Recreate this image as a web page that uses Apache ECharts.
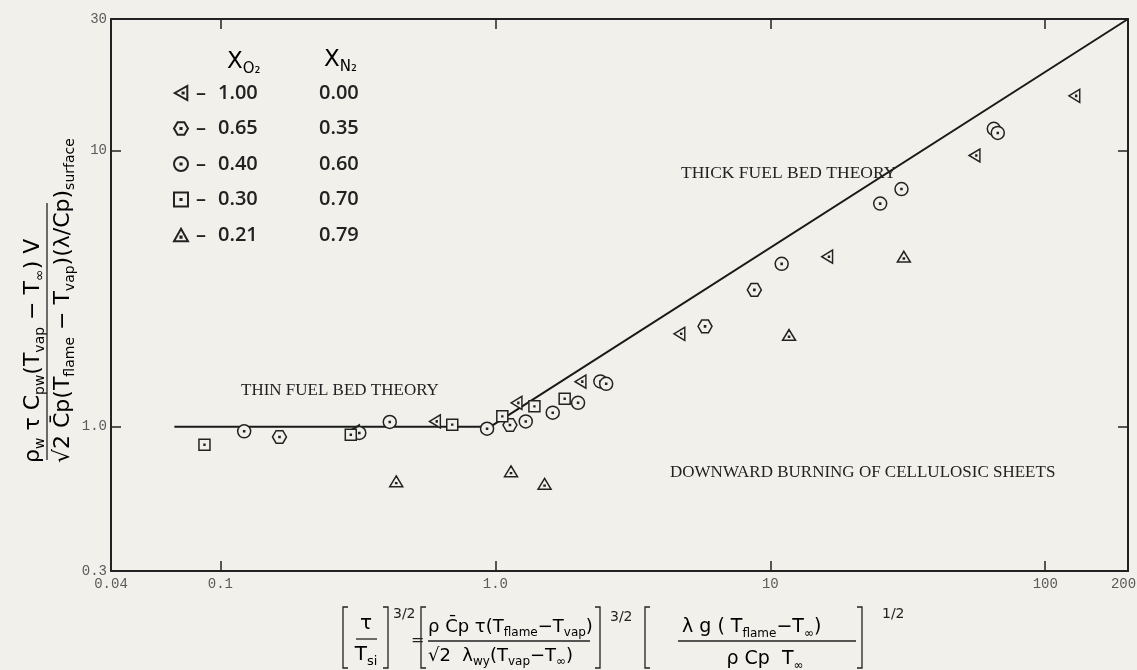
<!DOCTYPE html>
<html>
<head>
<meta charset="utf-8">
<script src="https://cdn.jsdelivr.net/npm/echarts@6/dist/echarts.min.js"></script>
<style>
  html, body { margin: 0; padding: 0; background: #f1f0eb; }
  #chart { width: 1137px; height: 670px; }
</style>
</head>
<body>
<div id="chart"></div>
<script>
// oxygen / nitrogen mole fractions (legend)
const o2Fractions = ['1.00', '0.65', '0.40', '0.30', '0.21']
const n2Fractions = ['0.00', '0.35', '0.60', '0.70', '0.79']

// measured points [x, y]
const pointsO2_100 = [[0.306, 0.962], [0.603, 1.045], [1.194, 1.22], [2.04, 1.456], [4.67, 2.17], [16.1, 4.13], [55.3, 9.61], [127.6, 15.8]]
const pointsO2_065 = [[0.164, 0.918], [1.13, 1.014], [5.79, 2.31], [8.75, 3.13]]
const pointsO2_040 = [[0.122, 0.962], [0.32, 0.949], [0.413, 1.04], [0.933, 0.983], [1.29, 1.045], [1.617, 1.124], [1.999, 1.22], [2.41, 1.459], [2.53, 1.43], [11.0, 3.89], [25.1, 6.43], [30.0, 7.26], [65.0, 12.0], [67.2, 11.6]]
const pointsO2_030 = [[0.0875, 0.86], [0.298, 0.935], [0.697, 1.017], [1.06, 1.09], [1.387, 1.185], [1.787, 1.263]]
const pointsO2_021 = [[0.436, 0.634], [1.14, 0.689], [1.51, 0.621], [11.7, 2.15], [30.6, 4.13]]

// thin / thick fuel bed theory
const theoryLine = [[0.068, 1.0], [0.96, 1.0], [200, 30]]

// axes
const xTickValues = [0.04, 0.1, 1, 10, 100, 200]
const xTickLabels = ['0.04', '0.1', '1.0', '10', '100', '{r|200}']
const xMajorTicks = [0.1, 1, 10, 100]
const yTickValues = [0.3, 1, 10, 30]
const yTickLabels = ['0.3', '1.0', '10', '30']
const yMajorTicks = [1, 10]

const bg = '#f1f0eb'
const ink = '#222'
const labelGray = '#5a5a5a'
const mathFont = '"DejaVu Sans"'

const symbols = {
    triLeft: 'path://M0,5 L9,0 L9,10 Z M5.6,4.6 L6.4,4.6 L6.4,5.4 L5.6,5.4 Z',
    hexagon: 'path://M0,5 L2.6,0.5 L7.4,0.5 L10,5 L7.4,9.5 L2.6,9.5 Z M4.6,4.6 L5.4,4.6 L5.4,5.4 L4.6,5.4 Z',
    circle: 'path://M10,5 A5,5 0 1 1 0,5 A5,5 0 1 1 10,5 Z M4.6,4.6 L5.4,4.6 L5.4,5.4 L4.6,5.4 Z',
    square: 'path://M0,0 L10,0 L10,10 L0,10 Z M4.6,4.6 L5.4,4.6 L5.4,5.4 L4.6,5.4 Z',
    triUp: 'path://M5,0 L10,9 L0,9 Z M4.6,5.6 L5.4,5.6 L5.4,6.4 L4.6,6.4 Z'
}

const pickLabel = (values, labels) => v => {
    let best = 0
    values.forEach((t, i) => {
        if (Math.abs(Math.log10(v) - Math.log10(t)) < Math.abs(Math.log10(v) - Math.log10(values[best]))) best = i
    })
    return labels[best]
}

const axisCommon = {
    type: 'log',
    logBase: 10,
    axisLine: { show: true, lineStyle: { color: ink, width: 2 } },
    splitLine: { show: false },
    minorTick: { show: false }
}

const tickFont = { color: labelGray, fontFamily: '"Liberation Mono"', fontSize: 14 }

const makeX = (position, showLabel) => ({
    ...axisCommon,
    position,
    min: 0.04,
    max: 200,
    axisTick: { show: true, inside: true, length: 10, customValues: xMajorTicks, lineStyle: { color: ink, width: 1.5 } },
    axisLabel: {
        show: showLabel,
        customValues: xTickValues,
        formatter: pickLabel(xTickValues, xTickLabels),
        margin: 6,
        ...tickFont,
        rich: { r: { ...tickFont, padding: [0, 9, 0, 0] } }
    }
})

const makeY = (position, showLabel) => ({
    ...axisCommon,
    position,
    min: 0.3,
    max: 30,
    axisTick: { show: true, inside: true, length: 10, customValues: yMajorTicks, lineStyle: { color: ink, width: 1.5 } },
    axisLabel: {
        show: showLabel,
        customValues: yTickValues,
        formatter: pickLabel(yTickValues, yTickLabels),
        margin: 4,
        ...tickFont
    }
})

const scatter = (name, data, symbol, size) => ({
    type: 'scatter',
    name,
    data,
    symbol,
    symbolSize: size,
    symbolKeepAspect: true,
    itemStyle: { color: bg, borderColor: ink, borderWidth: 1.5, opacity: 1 },
    emphasis: { disabled: true },
    z: 5
})

// rich text styles for the formula labels
const mathRich = size => ({
    m: { fontSize: size, fontFamily: mathFont, color: ink, lineHeight: Math.round(size * 1.3), verticalAlign: 'middle' },
    s: { fontSize: Math.round(size * 0.65), fontFamily: mathFont, color: ink, lineHeight: Math.round(size * 0.65), verticalAlign: 'bottom' },
    p: { fontSize: Math.round(size * 0.65), fontFamily: mathFont, color: ink, lineHeight: Math.round(size * 0.65), verticalAlign: 'top' }
})

const mathText = (x, y, text, size, align) => ({
    type: 'text',
    x, y,
    style: { text, rich: mathRich(size), textAlign: align || 'left', textVerticalAlign: 'middle' }
})

const hLine = (x1, x2, y) => ({
    type: 'line',
    shape: { x1, y1: y, x2, y2: y },
    style: { stroke: ink, lineWidth: 1.3 }
})

const bracket = (x, top, bottom, open) => {
    const d = open ? 5 : -5
    return {
        type: 'polyline',
        shape: { points: [[x + d, top], [x, top], [x, bottom], [x + d, bottom]] },
        style: { stroke: ink, lineWidth: 1.3, fill: null }
    }
}

const plainText = (x, y, text, font, align) => ({
    type: 'text',
    x, y,
    style: { text, font, fill: ink, textAlign: align || 'left', textVerticalAlign: 'middle' }
})

// y axis title (rotated fraction)
const yTitle = {
    type: 'group',
    x: 47,
    y: 463,
    rotation: Math.PI / 2,
    children: [
        mathText(0, -14, '{m|ρ}{s|w}{m| τ C}{s|pw}{m|(T}{s|vap}{m| − T}{s|∞}{m|) V}', 22),
        { type: 'line', shape: { x1: 3, y1: 0, x2: 260, y2: 0 }, style: { stroke: ink, lineWidth: 1.3 } },
        mathText(0, 16, '{m|√2 C̄p(T}{s|flame}{m| − T}{s|vap}{m|)(λ/Cp)}{s|surface}', 22)
    ]
}

// x axis title (bracketed fractions)
const xTitle = {
    type: 'group',
    children: [
        bracket(343, 607, 668, true),
        mathText(366, 624, '{m|τ}', 20, 'center'),
        hLine(356, 377, 639),
        mathText(366, 655, '{m|T}{s|si}', 20, 'center'),
        bracket(388, 607, 668, false),
        plainText(393, 614, '3/2', '14px ' + mathFont),
        plainText(411, 641, '=', '16px ' + mathFont),
        bracket(421, 607, 668, true),
        mathText(428, 627, '{m|ρ C̄p τ(T}{s|flame}{m|−T}{s|vap}{m|)}', 18),
        hLine(428, 590, 641),
        mathText(428, 656, '{m|√2  λ}{s|wy}{m|(T}{s|vap}{m|−T}{s|∞}{m|)}', 18),
        bracket(600, 607, 668, false),
        plainText(610, 617, '3/2', '14px ' + mathFont),
        bracket(645, 607, 668, true),
        mathText(682, 627, '{m|λ g ( T}{s|flame}{m|−T}{s|∞}{m|)}', 19),
        hLine(678, 856, 641),
        mathText(765, 659, '{m|ρ Cp  T}{s|∞}', 19, 'center'),
        bracket(862, 607, 668, false),
        plainText(882, 614, '1/2', '14px ' + mathFont)
    ]
}

// legend column headers
const legendHeads = [
    mathText(227, 62, '{m|X}{s|O₂}', 23),
    mathText(324, 60, '{m|X}{s|N₂}', 23)
]

const notes = [
    plainText(241, 391, 'THIN FUEL BED THEORY', '17px "Liberation Serif"'),
    plainText(681, 173, 'THICK FUEL BED THEORY', '17.5px "Liberation Serif"'),
    plainText(670, 473, 'DOWNWARD BURNING OF CELLULOSIC SHEETS', '17px "Liberation Serif"')
]

const chart = echarts.init(document.getElementById('chart'), null, { renderer: 'canvas' })

const option = {
    backgroundColor: bg,
    animation: false,
    grid: { left: 111, right: 9, top: 19, bottom: 99, outerBoundsMode: 'none' },
    xAxis: [makeX('bottom', true), makeX('top', false)],
    yAxis: [makeY('left', true), makeY('right', false)],
    legend: {
        orient: 'vertical',
        left: 173,
        top: 82,
        padding: 0,
        itemWidth: 14,
        itemHeight: 14,
        itemGap: 13.5,
        selectedMode: false,
        data: o2Fractions,
        formatter: name => `{d|–}{a|${name}}{b|${n2Fractions[o2Fractions.indexOf(name)]}}`,
        textStyle: {
            lineHeight: 22,
            rich: {
                d: { width: 22, fontSize: 20, fontFamily: '"Open Sans"', fontWeight: 600, color: ink, padding: [0, 0, 0, 3] },
                a: { width: 101, fontSize: 20, fontFamily: '"Open Sans"', fontWeight: 600, color: ink },
                b: { fontSize: 20, fontFamily: '"Open Sans"', fontWeight: 600, color: ink }
            }
        }
    },
    graphic: [yTitle, xTitle, ...legendHeads, ...notes],
    series: [
        {
            type: 'line',
            name: 'theory',
            data: theoryLine,
            symbol: 'none',
            lineStyle: { color: '#1a1a1a', width: 2 },
            emphasis: { disabled: true },
            z: 2
        },
        scatter(o2Fractions[0], pointsO2_100, symbols.triLeft, [12, 13]),
        scatter(o2Fractions[1], pointsO2_065, symbols.hexagon, 14),
        scatter(o2Fractions[2], pointsO2_040, symbols.circle, 13),
        scatter(o2Fractions[3], pointsO2_030, symbols.square, 11),
        scatter(o2Fractions[4], pointsO2_021, symbols.triUp, [13, 12])
    ]
}

chart.setOption(option)
</script>
</body>
</html>
